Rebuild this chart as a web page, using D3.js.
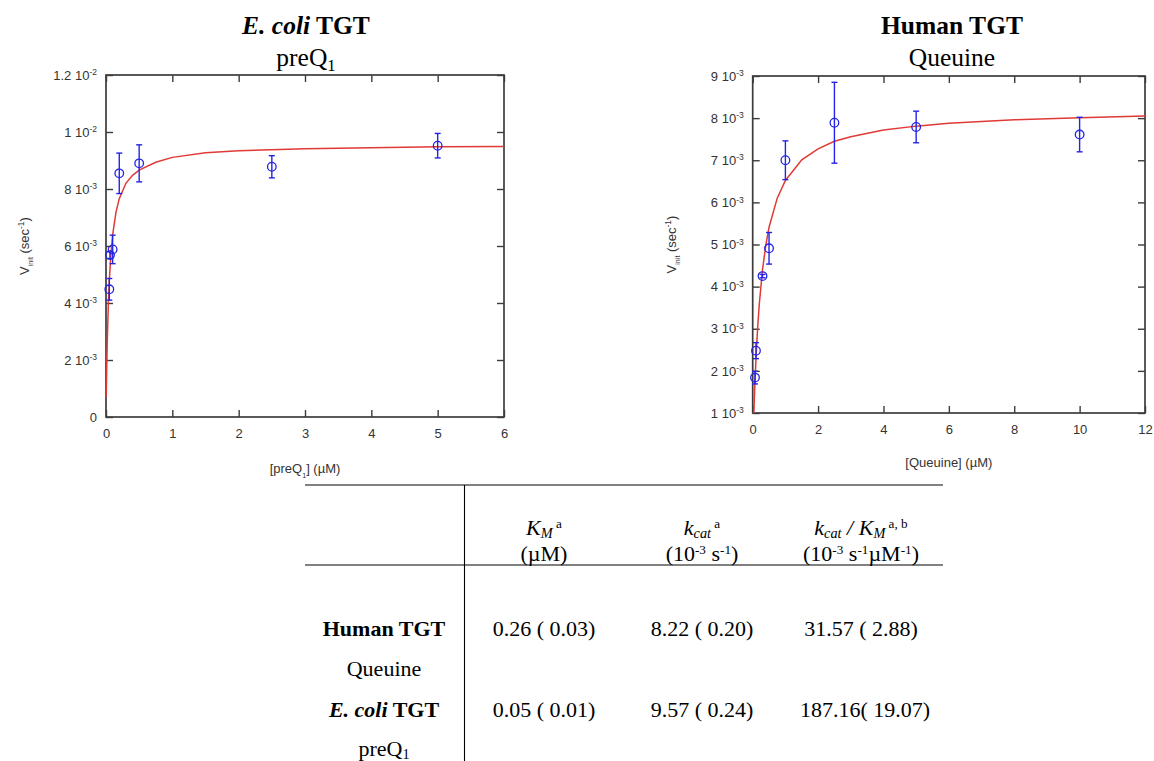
<!DOCTYPE html>
<html><head><meta charset="utf-8">
<script src="https://cdn.jsdelivr.net/npm/d3@7"></script>
<style>
body{margin:0;background:#fff;}
svg{display:block;}
.axis text{font-family:"Liberation Sans",Arial,sans-serif;font-size:13px;fill:#333;}
.axis line{stroke:#3c3c3c;stroke-width:1.4;}
</style></head><body>
<svg id="c" width="1154" height="761"></svg>
<script>
// ---------- DATA ----------
// E. coli TGT with preQ1 (rates in 10^-3 s^-1)
const ecoliConc = [0.05, 0.06, 0.1, 0.2, 0.5, 2.5, 5];
const ecoliRate = [4.48, 5.68, 5.88, 8.55, 8.90, 8.78, 9.52];
const ecoliErr  = [0.38, 0.12, 0.50, 0.71, 0.65, 0.39, 0.43];
const ecoliFitConc = [0.004,0.01,0.02,0.035,0.05,0.075,0.1,0.15,0.2,0.3,0.4,0.5,0.75,1,1.5,2,3,4,5,6];
const ecoliFitRate = [0.70,1.60,2.73,3.94,4.79,5.74,6.38,7.18,7.66,8.20,8.48,8.66,8.94,9.11,9.27,9.34,9.41,9.45,9.48,9.49];
const ecoliXTicks = [0,1,2,3,4,5,6];
const ecoliYTicks = [0,2,4,6,8,10,12];
const ecoliYTickLabels = ["0","2 10^-3","4 10^-3","6 10^-3","8 10^-3","1 10^-2","1.2 10^-2"];

// Human TGT with queuine (rates in 10^-3 s^-1)
const humanConc = [0.07, 0.1, 0.3, 0.5, 1, 2.5, 5, 10];
const humanRate = [1.84, 2.48, 4.25, 4.91, 7.00, 7.89, 7.79, 7.61];
const humanErr  = [0.15, 0.19, 0.04, 0.375, 0.46, 0.96, 0.375, 0.41];
const humanFitConc = [0.036,0.05,0.075,0.1,0.15,0.2,0.3,0.4,0.5,0.75,1,1.5,2,2.5,3,4,5,6,8,10,12];
const humanFitRate = [1.00,1.33,1.84,2.28,3.01,3.57,4.40,4.98,5.41,6.10,6.52,7.01,7.27,7.45,7.56,7.72,7.81,7.88,7.96,8.01,8.05];
const humanXTicks = [0,2,4,6,8,10,12];
const humanYTicks = [1,2,3,4,5,6,7,8,9];
const humanYTickLabels = ["1 10^-3","2 10^-3","3 10^-3","4 10^-3","5 10^-3","6 10^-3","7 10^-3","8 10^-3","9 10^-3"];

// Table
const tableEnzymes = ["Human TGT", "E. coli TGT"];
const tableSubstrates = ["Queuine", "preQ1"];
const tableKm   = ["0.26 ( 0.03)", "0.05 ( 0.01)"];
const tableKcat = ["8.22 ( 0.20)", "9.57 ( 0.24)"];
const tableEff  = ["31.57 ( 2.88)", "187.16( 19.07)"];

// ---------- DRAW ----------
const svg = d3.select("#c");
const SANS = '"Liberation Sans", Arial, sans-serif';
const SERIF = '"Liberation Serif", "Times New Roman", serif';
const FRAME = "#3c3c3c";
const RED = "#e03a36";
const BLUE = "#2424e6";

function rich(parent, x, y, segs, size, anchor, family) {
  const t = parent.append("text").attr("x", x).attr("y", y)
    .attr("text-anchor", anchor || "middle")
    .attr("font-family", family || SERIF).attr("font-size", size).attr("fill", "#000");
  let shift = 0;
  let pendingBreak = 0;
  segs.forEach(s => {
    if (s.br) { pendingBreak += s.br; return; }
    let target = 0, fs = size;
    if (s.sub) { target = size * (s.subShift || 0.2); fs = size * (s.scale || 0.65); }
    if (s.sup) { target = -size * (s.supShift || 0.3); fs = size * (s.scale || 0.6); }
    const ts = t.append("tspan").text(s.t).attr("dy", target - shift + pendingBreak).attr("font-size", fs);
    if (pendingBreak) { ts.attr("x", x); pendingBreak = 0; }
    shift = target;
    if (s.i) ts.attr("font-style", "italic");
    if (s.b) ts.attr("font-weight", "bold");
  });
  return t;
}

function drawChart(cfg) {
  const g = svg.append("g");
  const x = d3.scaleLinear().domain(cfg.xDomain).range([cfg.left, cfg.right]);
  const y = d3.scaleLinear().domain(cfg.yDomain).range([cfg.bottom, cfg.top]);

  // axes (inward ticks on all four sides)
  const ab = g.append("g").attr("class", "axis").attr("transform", `translate(0,${cfg.bottom})`)
    .call(d3.axisBottom(x).tickValues(cfg.xTicks).tickSize(-7).tickSizeOuter(0).tickPadding(12).tickFormat(d3.format("d")));
  const at = g.append("g").attr("class", "axis").attr("transform", `translate(0,${cfg.top})`)
    .call(d3.axisTop(x).tickValues(cfg.xTicks).tickSize(-7).tickSizeOuter(0).tickFormat(""));
  const al = g.append("g").attr("class", "axis").attr("transform", `translate(${cfg.left},0)`)
    .call(d3.axisLeft(y).tickValues(cfg.yTicks).tickSize(-7).tickSizeOuter(0).tickPadding(9).tickFormat(""));
  const ar = g.append("g").attr("class", "axis").attr("transform", `translate(${cfg.right},0)`)
    .call(d3.axisRight(y).tickValues(cfg.yTicks).tickSize(-7).tickSizeOuter(0).tickFormat(""));
  [ab, at, al, ar].forEach(a => a.select(".domain").remove());
  ab.selectAll(".tick text").attr("fill", "#333");

  al.selectAll(".tick text").each(function (d, i) {
    const parts = cfg.yLabels[i].split("^");
    const t = d3.select(this).text(null).attr("fill", "#333");
    t.append("tspan").text(parts[0]);
    if (parts[1]) t.append("tspan").attr("dy", -4.5).attr("font-size", "8.5px").text(parts[1]);
  });

  // frame
  g.append("rect").attr("x", cfg.left).attr("y", cfg.top)
    .attr("width", cfg.right - cfg.left).attr("height", cfg.bottom - cfg.top)
    .attr("fill", "none").attr("stroke", FRAME).attr("stroke-width", 1.7);

  // fit curve
  const line = d3.line().x(d => x(d[0])).y(d => y(d[1]));
  g.append("path").datum(cfg.fitX.map((v, i) => [v, cfg.fitY[i]]))
    .attr("d", line).attr("fill", "none").attr("stroke", RED).attr("stroke-width", 1.5);

  // error bars + points
  const pts = cfg.px.map((v, i) => ({ x: v, y: cfg.py[i], e: cfg.pe[i] }));
  const pg = g.append("g").attr("stroke", BLUE).attr("fill", "none").attr("stroke-width", 1.4);
  pts.forEach(p => {
    const cx = x(p.x), y1 = y(p.y + p.e), y0 = y(p.y - p.e);
    pg.append("line").attr("x1", cx).attr("x2", cx).attr("y1", y1).attr("y2", y0);
    pg.append("line").attr("x1", cx - 3).attr("x2", cx + 3).attr("y1", y1).attr("y2", y1);
    pg.append("line").attr("x1", cx - 3).attr("x2", cx + 3).attr("y1", y0).attr("y2", y0);
    pg.append("circle").attr("cx", cx).attr("cy", y(p.y)).attr("r", 4.3).attr("stroke-width", 1.3);
  });

  // titles
  rich(g, cfg.titleX, cfg.titleY, cfg.title, 25.5, "middle", SERIF);
  rich(g, cfg.titleX, cfg.titleY + 32, cfg.subtitle, 25.5, "middle", SERIF);

  // x label
  rich(g, (cfg.left + cfg.right) / 2, cfg.xLabelY, cfg.xLabel, 13, "middle", SANS).attr("fill", "#333");
  // y label
  rich(g, 0, 0, [
    { t: "V" },
    { t: "init", sub: true, subShift: 0.3, scale: 0.55 },
    { t: " (sec" },
    { t: "-1", sup: true, supShift: 0.4, scale: 0.65 },
    { t: ")" }
  ], 13, "middle", SANS).attr("fill", "#333")
    .attr("transform", `translate(${cfg.yLabelX},${(cfg.top + cfg.bottom) / 2}) rotate(-90)`);
}

drawChart({
  left: 106, right: 504, top: 75, bottom: 417,
  xDomain: [0, 6], yDomain: [0, 12],
  xTicks: ecoliXTicks, yTicks: ecoliYTicks, yLabels: ecoliYTickLabels,
  fitX: ecoliFitConc, fitY: ecoliFitRate,
  px: ecoliConc, py: ecoliRate, pe: ecoliErr,
  titleX: 306, titleY: 34,
  title: [{ t: "E. coli", i: true, b: true }, { t: " TGT", b: true }],
  subtitle: [{ t: "preQ" }, { t: "1", sub: true, subShift: 0.2 }],
  xLabel: [{ t: "[preQ" }, { t: "1", sub: true, subShift: 0.35, scale: 0.55 }, { t: "] (µM)" }],
  xLabelY: 473, yLabelX: 29
});

drawChart({
  left: 752.7, right: 1145, top: 76, bottom: 413,
  xDomain: [0, 12], yDomain: [1, 9],
  xTicks: humanXTicks, yTicks: humanYTicks, yLabels: humanYTickLabels,
  fitX: humanFitConc, fitY: humanFitRate,
  px: humanConc, py: humanRate, pe: humanErr,
  titleX: 952, titleY: 34,
  title: [{ t: "Human TGT", b: true }],
  subtitle: [{ t: "Queuine" }],
  xLabel: [{ t: "[Queuine] (µM)" }],
  xLabelY: 467, yLabelX: 676
});

// ---------- TABLE ----------
const tg = svg.append("g");
const TS = 22;
tg.append("line").attr("x1", 305).attr("x2", 943).attr("y1", 485).attr("y2", 485).attr("stroke", "#808080").attr("stroke-width", 2);
tg.append("line").attr("x1", 305).attr("x2", 943).attr("y1", 565).attr("y2", 565).attr("stroke", "#808080").attr("stroke-width", 2);
tg.append("line").attr("x1", 464.5).attr("x2", 464.5).attr("y1", 485).attr("y2", 761).attr("stroke", "#000").attr("stroke-width", 1.1);

const colX = [544, 702, 861];
const H1 = 535, H2 = 561;
rich(tg, colX[0], H1, [{ t: "K", i: true }, { t: "M", i: true, sub: true, subShift: 0.13 }, { t: " a", sup: true }], TS);
rich(tg, colX[1], H1, [{ t: "k", i: true }, { t: "cat", i: true, sub: true, subShift: 0.13 }, { t: " a", sup: true }], TS);
rich(tg, colX[2], H1, [{ t: "k", i: true }, { t: "cat", i: true, sub: true, subShift: 0.13 }, { t: " / K", i: true }, { t: "M", i: true, sub: true, subShift: 0.13 }, { t: " a, b", sup: true }], TS);
rich(tg, colX[0], H2, [{ t: "(µM)" }], TS);
rich(tg, colX[1], H2, [{ t: "(10" }, { t: "-3", sup: true }, { t: " s" }, { t: "-1", sup: true }, { t: ")" }], TS);
rich(tg, colX[2], H2, [{ t: "(10" }, { t: "-3", sup: true }, { t: " s" }, { t: "-1", sup: true }, { t: "µM" }, { t: "-1", sup: true }, { t: ")" }], TS);

const rowY = [636, 716.5];
const subY = [676, 755.5];
tableEnzymes.forEach((name, i) => {
  const segs = name.startsWith("E. coli")
    ? [{ t: "E. coli", i: true, b: true }, { t: " TGT", b: true }]
    : [{ t: name, b: true }];
  rich(tg, 384, rowY[i], segs, TS);
  const sub = tableSubstrates[i];
  const m = sub.match(/^(.*?)(\d)$/);
  rich(tg, 384, subY[i], m ? [{ t: m[1] }, { t: m[2], sub: true, subShift: 0.15 }] : [{ t: sub }], TS);
  rich(tg, colX[0], rowY[i], [{ t: tableKm[i] }], TS);
  rich(tg, colX[1], rowY[i], [{ t: tableKcat[i] }], TS);
  rich(tg, colX[2] + (i === 1 ? 4 : 0), rowY[i], [{ t: tableEff[i] }], TS);
});
</script></body></html>
